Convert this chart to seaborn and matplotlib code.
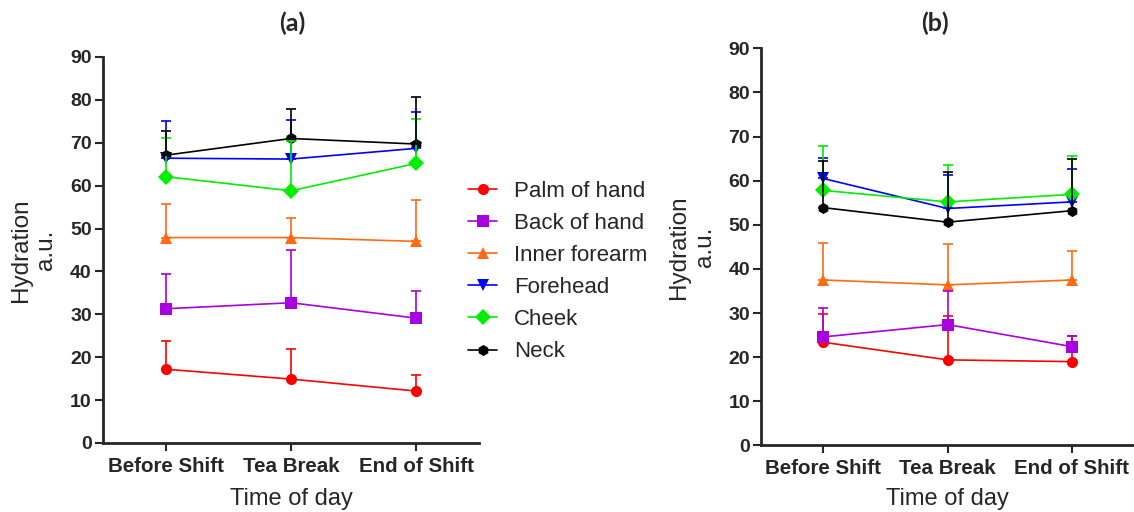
# plot.py
# Skin hydration at three times of day, two groups side by side (a) and (b).
# Means with one-sided (upper) error bars.

import pandas as pd
import matplotlib.pyplot as plt
from matplotlib.lines import Line2D
import seaborn as sns

# time points on the x axis
times = ["Before Shift", "Tea Break", "End of Shift"]

# body sites (series)
sites = ["Palm of hand", "Back of hand", "Inner forearm", "Forehead", "Cheek", "Neck"]
site_colors = ["#ff0000", "#a800e0", "#ff6a13", "#0000ff", "#00ee00", "#000000"]
site_markers = ["o", "s", "^", "v", "D", "h"]

# panel (a) means and upper error
a_palm = [17.2, 14.9, 12.1]
a_back = [31.3, 32.7, 29.1]
a_forearm = [47.9, 47.9, 47.0]
a_forehead = [66.4, 66.2, 68.7]
a_cheek = [62.1, 58.8, 65.2]
a_neck = [67.1, 71.0, 69.7]

a_palm_err = [6.6, 7.1, 3.8]
a_back_err = [8.1, 12.4, 6.4]
a_forearm_err = [7.8, 4.5, 9.6]
a_forehead_err = [8.7, 9.1, 8.5]
a_cheek_err = [9.0, 11.7, 10.4]
a_neck_err = [5.6, 6.9, 10.9]

# panel (b) means and upper error
b_palm = [23.4, 19.4, 19.0]
b_back = [24.6, 27.4, 22.4]
b_forearm = [37.5, 36.4, 37.5]
b_forehead = [60.5, 53.7, 55.2]
b_cheek = [57.8, 55.2, 56.9]
b_neck = [53.9, 50.6, 53.2]

b_palm_err = [6.5, 9.9, 5.8]
b_back_err = [6.6, 7.7, 2.4]
b_forearm_err = [8.4, 9.2, 6.6]
b_forehead_err = [4.7, 7.7, 7.5]
b_cheek_err = [10.0, 8.3, 8.6]
b_neck_err = [10.6, 11.4, 11.7]

panel_a = [a_palm, a_back, a_forearm, a_forehead, a_cheek, a_neck]
panel_a_err = [a_palm_err, a_back_err, a_forearm_err, a_forehead_err, a_cheek_err, a_neck_err]
panel_b = [b_palm, b_back, b_forearm, b_forehead, b_cheek, b_neck]
panel_b_err = [b_palm_err, b_back_err, b_forearm_err, b_forehead_err, b_cheek_err, b_neck_err]


def to_frame(means, errs):
    rows = []
    for site, m_list, e_list in zip(sites, means, errs):
        for t, m, e in zip(times, m_list, e_list):
            rows.append({"time": t, "site": site, "value": m, "err": e})
    return pd.DataFrame(rows)


sns.set_style("ticks")
plt.rcParams["font.family"] = ["Liberation Sans", "DejaVu Sans"]

fig = plt.figure(figsize=(11.34, 5.12), dpi=100)
ax_a = fig.add_axes([0.0908, 0.1348, 0.3316, 0.7539])
ax_b = fig.add_axes([0.6711, 0.1299, 0.3289, 0.7758])

palette = dict(zip(sites, site_colors))
marker_map = dict(zip(sites, site_markers))

# (axes, means, errors, x label padding)
panels = [(ax_a, panel_a, panel_a_err, 9), (ax_b, panel_b, panel_b_err, 7)]

for ax, means, errs, xpad in panels:
    df = to_frame(means, errs)

    # one-sided error bars drawn first, under the lines
    for i, site in enumerate(sites):
        sub = df[df["site"] == site]
        ax.errorbar(sub["time"], sub["value"],
                    yerr=[[0] * len(sub), sub["err"]],
                    fmt="none", ecolor=site_colors[i], elinewidth=1.2,
                    capsize=3.4, capthick=1.2, zorder=2 + i)

    sns.lineplot(data=df, x="time", y="value", hue="site", style="site",
                 hue_order=sites, style_order=sites, palette=palette,
                 markers=marker_map, dashes=False, sort=False,
                 linewidth=1.2, markersize=8, markeredgewidth=0,
                 legend=False, ax=ax)

    ax.set_xlim(-0.5, 2.5)
    ax.set_ylim(0, 90)
    ax.set_yticks(range(0, 91, 10))
    ax.set_xlabel("Time of day", fontsize=17, labelpad=xpad)
    ax.set_ylabel("Hydration\na.u.", fontsize=17.5)
    # label anchor is the right edge of the rotated two-line label
    ax.yaxis.set_label_coords(-0.122, 0.5)
    ax.tick_params(axis="x", labelsize=14.8, length=6, width=1.5, pad=4)
    ax.tick_params(axis="y", labelsize=14, length=6, width=1.5, pad=2)
    for lab in ax.get_xticklabels() + ax.get_yticklabels():
        lab.set_fontweight("bold")
    sns.despine(ax=ax)
    for side in ["left", "bottom"]:
        ax.spines[side].set_linewidth(2)

# panel titles
fig.text(0.2575, 0.955, "(a)", ha="center", va="center", fontsize=18,
         fontweight="bold", family=["Lato", "DejaVu Sans"])
fig.text(0.8245, 0.955, "(b)", ha="center", va="center", fontsize=18,
         fontweight="bold", family=["Lato", "DejaVu Sans"])

# shared legend between the panels
handles = [Line2D([0], [0], color=c, marker=m, linewidth=1.2, markersize=8,
                  markeredgewidth=0) for c, m in zip(site_colors, site_markers)]
fig.legend(handles, sites, loc="center left", bbox_to_anchor=(0.413, 0.4697),
           frameon=False, fontsize=16, handlelength=1.3, handletextpad=0.75,
           labelspacing=0.5, borderpad=0, borderaxespad=0)

plt.savefig("out.png", dpi=100)
